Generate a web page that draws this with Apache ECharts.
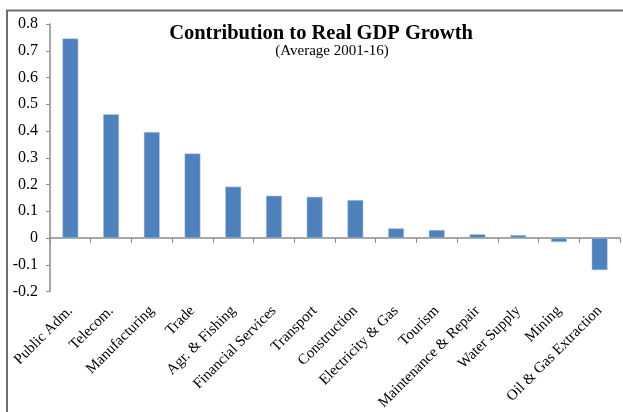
<!DOCTYPE html>
<html>
<head>
<meta charset="utf-8">
<script src="https://cdn.jsdelivr.net/npm/echarts@6/dist/echarts.min.js"></script>
<style>
  html, body { margin: 0; padding: 0; background: #fff; }
  #gdpChart { width: 623px; height: 412px; }
</style>
</head>
<body>
<div id="gdpChart"></div>
<script>
// sectors, in the order shown
const sectors = [
  "Public Adm.", "Telecom.", "Manufacturing", "Trade", "Agr. & Fishing",
  "Financial Services", "Transport", "Construction", "Electricity & Gas",
  "Tourism", "Maintenance & Repair", "Water Supply", "Mining", "Oil & Gas Extraction"
];
// contribution (percentage points)
const contribution = [
  0.746, 0.463, 0.396, 0.316, 0.192,
  0.158, 0.154, 0.142, 0.036,
  0.030, 0.014, 0.011, -0.015, -0.120
];
const yMin = -0.2;
const yMax = 0.8;
const yStep = 0.1;

const serif = '"Liberation Serif", "Times New Roman", serif';

const chart = echarts.init(document.getElementById("gdpChart"));

const option = {
  animation: false,
  backgroundColor: "#fff",
  textStyle: { fontFamily: serif, color: "#000" },
  title: [
    {
      text: "Contribution to Real GDP Growth",
      left: 316,
      top: 18,
      textAlign: "center",
      textStyle: { fontFamily: serif, fontSize: 20.5, fontWeight: "bold", color: "#000" },
    },
    {
      text: "(Average 2001-16)",
      left: 327,
      top: 39,
      textAlign: "center",
      textStyle: { fontFamily: serif, fontSize: 15, fontWeight: "normal", color: "#000" },
    },
  ],
  // outer frame (only top and left edges are inside the picture)
  graphic: [
    {
      type: "rect",
      shape: { x: 7, y: 10.5, width: 800, height: 600 },
      style: { fill: "none", stroke: "#6f6f6f", lineWidth: 2 },
      silent: true,
    },
  ],
  grid: { left: 50, top: 24, width: 570, height: 267.5, outerBoundsMode: "none" },
  xAxis: {
    type: "category",
    data: sectors,
    axisLine: { onZero: true, lineStyle: { color: "#8a8a8a", width: 1.5 } },
    axisTick: { show: true, length: 5, lineStyle: { color: "#8a8a8a" } },
    axisLabel: {
      interval: 0,
      rotate: 45,
      margin: 17,
      fontFamily: serif,
      fontSize: 15,
      color: "#000",
    },
    splitLine: { show: false },
  },
  yAxis: {
    type: "value",
    min: yMin,
    max: yMax,
    interval: yStep,
    axisLine: { show: true, lineStyle: { color: "#8a8a8a", width: 1.5 } },
    axisTick: { show: true, length: 4, lineStyle: { color: "#8a8a8a" } },
    splitLine: { show: false },
    axisLabel: {
      margin: 12,
      fontFamily: serif,
      fontSize: 16,
      color: "#000",
      formatter: function (v) {
        if (Math.abs(v) < 1e-9) return "0";
        return v.toFixed(1);
      },
    },
  },
  series: [
    {
      type: "bar",
      data: contribution,
      barWidth: "39%",
      itemStyle: {
        color: "#4f81bd",
        borderColor: "#b9cde5",
        borderWidth: 0.5,
      },
    },
  ],
};

chart.setOption(option);
</script>
</body>
</html>
